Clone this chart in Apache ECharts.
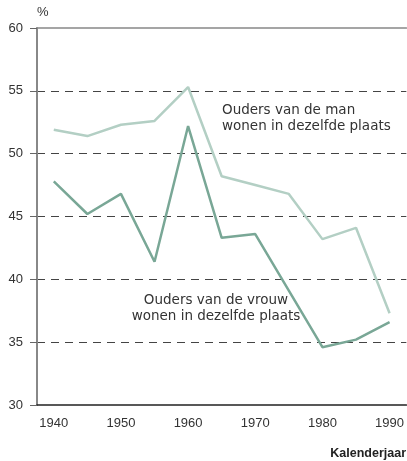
<!DOCTYPE html>
<html><head><meta charset="utf-8">
<script src="https://cdn.jsdelivr.net/npm/echarts@6/dist/echarts.min.js"></script>
<style>html,body{margin:0;padding:0;background:#fff}#c{width:407px;height:461px}</style>
</head><body><div id="c"></div>
<script>
const years = ['1940','1945','1950','1955','1960','1965','1970','1975','1980','1985','1990'];
const manValues = [51.9, 51.4, 52.3, 52.6, 55.3, 48.2, 47.5, 46.8, 43.2, 44.1, 37.3];
const vrouwValues = [47.8, 45.2, 46.8, 41.4, 52.2, 43.3, 43.6, 39.1, 34.6, 35.2, 36.6];
const yTicks = [30, 35, 40, 45, 50, 55, 60];
const manLabel = 'Ouders van de man\nwonen in dezelfde plaats';
const vrouwLabel = 'Ouders van de vrouw\nwonen in dezelfde plaats';
const xTitle = 'Kalenderjaar';

const font = '"Liberation Sans", Arial, sans-serif';
const font2 = '"DejaVu Sans", sans-serif';
const splitColors = yTicks.map((v, i) => (i === 0 || i === yTicks.length - 1) ? 'rgba(0,0,0,0)' : '#444');
const chart = echarts.init(document.getElementById('c'));
chart.setOption({
  animation: false,
  grid: {left: 37, right: 0, top: 28, bottom: 56},
  xAxis: [{
    type: 'category', data: years, boundaryGap: true,
    axisLine: {lineStyle: {color: '#222', width: 1.5}},
    axisTick: {interval: 0, length: 7, lineStyle: {color: '#222', width: 1}},
    axisLabel: {interval: 1, color: '#333', fontSize: 13, fontFamily: font, margin: 12},
    splitLine: {show: false}
  }, {
    type: 'category', data: years, position: 'top',
    axisLine: {lineStyle: {color: '#888', width: 1.5}},
    axisTick: {show: false}, axisLabel: {show: false}
  }],
  yAxis: {
    type: 'value', min: yTicks[0], max: yTicks[yTicks.length - 1], interval: 5,
    name: '%', nameLocation: 'end', nameGap: 9,
    nameTextStyle: {align: 'left', color: '#333', fontSize: 13, fontFamily: font},
    axisLine: {show: true, lineStyle: {color: '#888', width: 2}},
    axisTick: {show: true, length: 7, lineStyle: {color: '#666'}},
    axisLabel: {color: '#333', fontSize: 13, fontFamily: font, margin: 14},
    splitLine: {show: true, lineStyle: {color: splitColors, width: 1, type: [8, 6]}}
  },
  series: [{
    type: 'line', data: manValues, symbol: 'none',
    lineStyle: {color: '#b3cfc4', width: 2.5}
  }, {
    type: 'line', data: vrouwValues, symbol: 'none',
    lineStyle: {color: '#79a796', width: 2.5}
  }],
  graphic: [{
    type: 'text', left: 222, top: 102,
    style: {text: manLabel, fill: '#333', font: '13.5px ' + font2, lineHeight: 16.5}
  }, {
    type: 'text', x: 216, y: 292,
    style: {text: vrouwLabel, fill: '#333', font: '13.5px ' + font2, lineHeight: 16.5, align: 'center'}
  }, {
    type: 'text', right: 1, top: 447,
    style: {text: xTitle, fill: '#222', font: 'bold 12.5px ' + font}
  }]
});
</script></body></html>
